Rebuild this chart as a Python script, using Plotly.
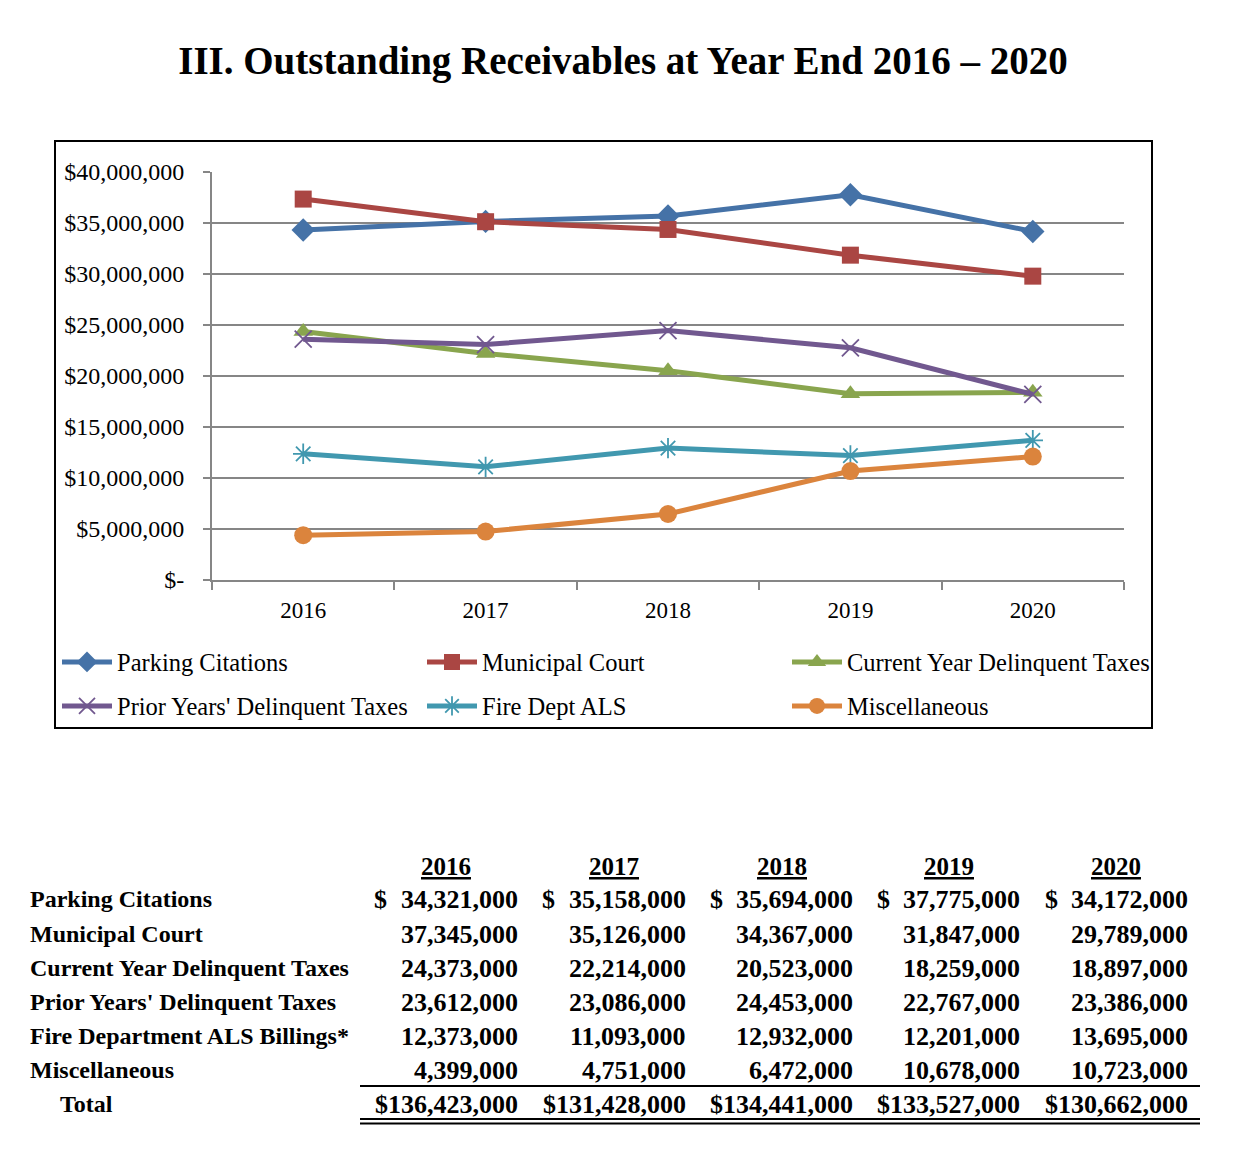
import plotly.graph_objects as go

# ---------------- data ----------------
years = ["2016", "2017", "2018", "2019", "2020"]
series_names = ["Parking Citations", "Municipal Court", "Current Year Delinquent Taxes",
                "Prior Years' Delinquent Taxes", "Fire Dept ALS", "Miscellaneous"]
parking = [34321000, 35158000, 35694000, 37775000, 34172000]
municipal = [37345000, 35126000, 34367000, 31847000, 29789000]
current_year = [24373000, 22214000, 20523000, 18259000, 18400000]
prior_years = [23612000, 23086000, 24453000, 22767000, 18200000]
fire_als = [12373000, 11093000, 12932000, 12201000, 13695000]
misc = [4399000, 4751000, 6472000, 10678000, 12100000]

y_tickvals = [0, 5e6, 10e6, 15e6, 20e6, 25e6, 30e6, 35e6, 40e6]
y_ticktext = ["$-", "$5,000,000", "$10,000,000", "$15,000,000", "$20,000,000",
              "$25,000,000", "$30,000,000", "$35,000,000", "$40,000,000"]

# table (as printed below the chart)
table_labels = ["Parking Citations", "Municipal Court", "Current Year Delinquent Taxes",
                "Prior Years' Delinquent Taxes", "Fire Department ALS Billings*", "Miscellaneous"]
table_parking = [34321000, 35158000, 35694000, 37775000, 34172000]
table_municipal = [37345000, 35126000, 34367000, 31847000, 29789000]
table_current = [24373000, 22214000, 20523000, 18259000, 18897000]
table_prior = [23612000, 23086000, 24453000, 22767000, 23386000]
table_fire = [12373000, 11093000, 12932000, 12201000, 13695000]
table_misc = [4399000, 4751000, 6472000, 10678000, 10723000]
table_total = [136423000, 131428000, 134441000, 133527000, 130662000]

# ---------------- styling ----------------
colors = ["#4572A7", "#AA4643", "#89A54E", "#71588F", "#4198AF", "#DB843D"]
symbols = ["diamond", "square", "triangle-up", "x-thin-open", "asterisk-open", "circle"]
msizes = [18, 17, 17, 17, 17, 18]
FONT = "Liberation Serif"

W, H = 1242, 1155
L, R, T, B = 212, 1124, 172, 580


def xp(px):
    return (px - L) / (R - L)


def yp(py):
    return (B - py) / (B - T)


fig = go.Figure()
all_series = [parking, municipal, current_year, prior_years, fire_als, misc]
for i, (name, vals) in enumerate(zip(series_names, all_series)):
    mk = dict(symbol=symbols[i], size=msizes[i], color=colors[i])
    if symbols[i].endswith("open"):
        mk["line"] = dict(color=colors[i], width=1.8)
    fig.add_trace(go.Scatter(
        x=years, y=vals, name=name, mode="lines+markers",
        line=dict(color=colors[i], width=5),
        marker=mk,
        legend="legend" if i < 3 else "legend2",
    ))

# table annotations
ann = []
row_y = [899, 934, 968, 1002, 1036, 1070]
total_y = 1104
head_x = [446, 614, 782, 949, 1116]
num_right = [520, 688, 855, 1022, 1190]
dollar_left = [372, 540, 708, 875, 1043]
lfont = dict(family=FONT, size=24, color="black")
nfont = dict(family=FONT, size=26, color="black")
hfont = dict(family=FONT, size=25, color="black")

for j, yr in enumerate(years):
    ann.append(dict(x=xp(head_x[j]), y=yp(866), xref="paper", yref="paper",
                    text="<b><u>" + yr + "</u></b>", showarrow=False,
                    xanchor="center", yanchor="middle", font=hfont))

table_rows = [table_parking, table_municipal, table_current, table_prior, table_fire, table_misc]
for r, (lab, vals) in enumerate(zip(table_labels, table_rows)):
    ann.append(dict(x=xp(28), y=yp(row_y[r]), xref="paper", yref="paper",
                    text="<b>" + lab + "</b>", showarrow=False,
                    xanchor="left", yanchor="middle", font=lfont))
    for j, v in enumerate(vals):
        ann.append(dict(x=xp(num_right[j]), y=yp(row_y[r]), xref="paper", yref="paper",
                        text="<b>" + f"{v:,}" + "</b>", showarrow=False,
                        xanchor="right", yanchor="middle", font=nfont))
        if r == 0:
            ann.append(dict(x=xp(dollar_left[j]), y=yp(row_y[r]), xref="paper", yref="paper",
                            text="<b>$</b>", showarrow=False,
                            xanchor="left", yanchor="middle", font=nfont))

ann.append(dict(x=xp(58), y=yp(total_y), xref="paper", yref="paper",
                text="<b>Total</b>", showarrow=False,
                xanchor="left", yanchor="middle", font=lfont))
for j, v in enumerate(table_total):
    ann.append(dict(x=xp(num_right[j]), y=yp(total_y), xref="paper", yref="paper",
                    text="<b>$" + f"{v:,}" + "</b>", showarrow=False,
                    xanchor="right", yanchor="middle", font=nfont))

shapes = [
    # chart frame
    dict(type="rect", xref="paper", yref="paper", x0=xp(55), x1=xp(1152), y0=yp(728), y1=yp(141),
         line=dict(color="black", width=2), fillcolor="rgba(0,0,0,0)", layer="below"),
    # table rules
    dict(type="line", xref="paper", yref="paper", x0=xp(360), x1=xp(1200), y0=yp(1086), y1=yp(1086),
         line=dict(color="black", width=2)),
    dict(type="line", xref="paper", yref="paper", x0=xp(360), x1=xp(1200), y0=yp(1119), y1=yp(1119),
         line=dict(color="black", width=2)),
    dict(type="line", xref="paper", yref="paper", x0=xp(360), x1=xp(1200), y0=yp(1123.5), y1=yp(1123.5),
         line=dict(color="black", width=2)),
]

legend_common = dict(orientation="h", xanchor="left", yanchor="middle",
                     font=dict(family=FONT, size=24.5, color="black"),
                     entrywidth=300, entrywidthmode="pixels",
                     bgcolor="rgba(0,0,0,0)", itemwidth=50,
                     x=xp(57), xref="paper", yref="paper")

fig.update_layout(
    width=W, height=H,
    margin=dict(l=L, r=W - R, t=T, b=H - B, pad=0),
    paper_bgcolor="white", plot_bgcolor="white",
    title=dict(text="<b>III. Outstanding Receivables at Year End 2016 – 2020</b>",
               x=623 / W, xanchor="center", y=1 - 60 / H, yanchor="middle",
               xref="container", yref="container",
               font=dict(family=FONT, size=39, color="black")),
    font=dict(family=FONT, size=24, color="black"),
    xaxis=dict(type="category", tickson="boundaries", ticks="outside", ticklen=8,
               tickcolor="#868686", tickwidth=2, showline=True, linecolor="#868686",
               linewidth=2, showgrid=False, tickfont=dict(family=FONT, size=23, color="black"),
               ticklabelstandoff=8, range=[-0.5, 4.5]),
    yaxis=dict(range=[0, 40e6], tickvals=y_tickvals, ticktext=y_ticktext,
               ticks="outside", ticklen=7, tickcolor="#868686", tickwidth=2,
               showline=True, linecolor="#868686", linewidth=2,
               showgrid=True, gridcolor="#868686", gridwidth=2, zeroline=False,
               tickfont=dict(family=FONT, size=24, color="black"),
               ticklabelstandoff=14),
    legend=dict(y=yp(662), **legend_common),
    legend2=dict(y=yp(706), **legend_common),
    annotations=ann,
    shapes=shapes,
    showlegend=True,
)

fig.write_html("out.html", config={"displayModeBar": False},
               post_script="document.body.style.margin='0';")
